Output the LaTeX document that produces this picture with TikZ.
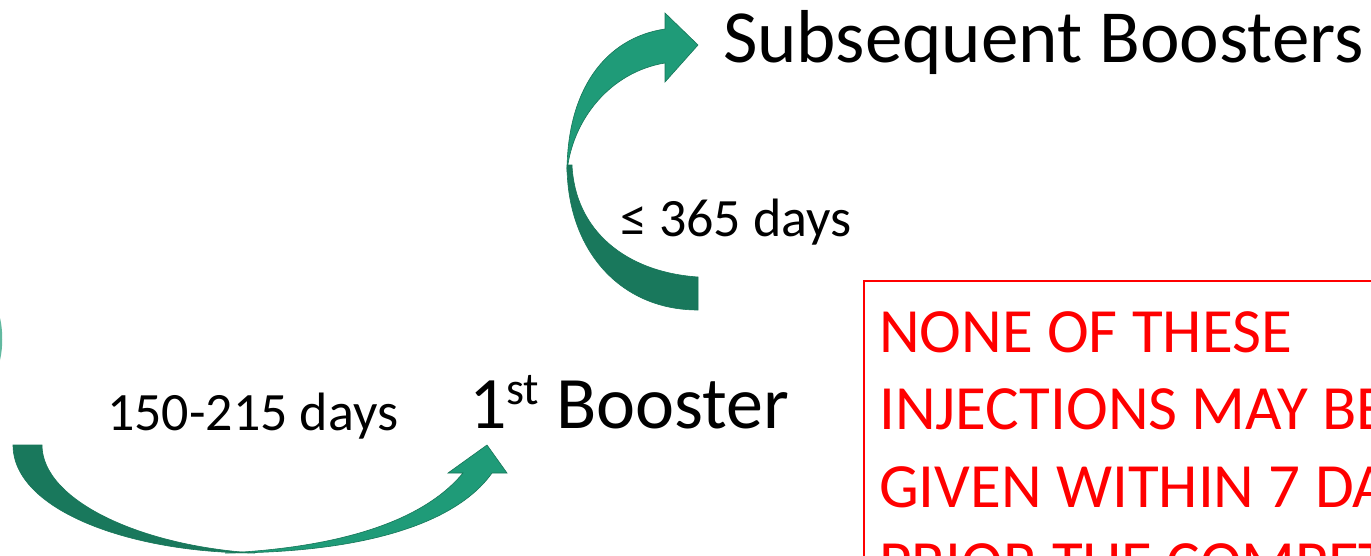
\documentclass[tikz,border=0pt]{standalone}
\usepackage{fontspec}
\setmainfont{Carlito}
\definecolor{arrdark}{RGB}{25,120,92}
\definecolor{arrlight}{RGB}{31,155,120}
\definecolor{arredge}{RGB}{22,118,88}
\definecolor{boxred}{RGB}{255,0,0}
\begin{document}
\begin{tikzpicture}[x=1pt,y=-1pt,
  lbl/.style={anchor=base west,inner sep=0pt,outer sep=0pt,text=black},
  darkpart/.style={fill=arrdark,draw=arredge,line width=0.6pt},
  lightpart/.style={fill=arrlight,draw=arredge,line width=0.6pt},
  redline/.style={anchor=base west,inner sep=0pt,text=boxred,font=\fontsize{63}{77}\selectfont}]
\useasboundingbox (0,0) rectangle (1371,555);
\clip (0,0) rectangle (1371,555);
\fill[white] (0,0) rectangle (1371,555);
% sliver of an arrow cut off at the left edge
\fill[arrlight!70] (0,318) .. controls (3,330) and (3,348) .. (0,360) -- cycle;
% bottom curved arrow (to 1st Booster)
\path[darkpart] (13,445) .. controls (13,510) and (130,553) .. (255,553)
  .. controls (140,546) and (42,500) .. (42,445) -- cycle;
\path[lightpart] (225,553) .. controls (360,553) and (455,525) .. (492,473)
  -- (507,473) -- (487,445) -- (448,473) -- (463,473)
  .. controls (420,525) and (330,548) .. (225,553) -- cycle;
% top curved arrow (to Subsequent Boosters)
\path[darkpart] (567,165) .. controls (567,250) and (620,310) .. (698,310)
  -- (698,277) .. controls (625,272) and (575,230) .. (572,165) -- cycle;
\path[lightpart] (567,172) .. controls (567,90) and (605,38) .. (665,29)
  -- (665,13) -- (698,45) -- (665,82) -- (665,63)
  .. controls (610,72) and (572,120) .. (567,172) -- cycle;
% texts
\node[lbl,font=\fontsize{75}{80}\selectfont] (subs) at (723,62) {Subsequent Boosters};
\node[lbl,font=\fontsize{54}{60}\selectfont] (d365) at (620,236) {≤ 365 days};
\node[lbl,font=\fontsize{54}{60}\selectfont] (d150) at (107,430) {150-215 days};
\node[lbl,font=\fontsize{74}{80}\selectfont] (first) at (469,428)
  {1\raisebox{24pt}{\fontsize{46}{46}\selectfont st} Booster};
% red box
\draw[boxred,line width=1.5pt] (1400,281) -- (864,281) -- (864,600);
\node[redline] (r1) at (879,352) {NONE OF THESE};
\node[redline] (r2) at (879,429) {INJECTIONS MAY BE};
\node[redline] (r3) at (879,507) {GIVEN WITHIN 7 DAYS};
\node[redline] (r4) at (879,584) {PRIOR THE COMPETITION};
\end{tikzpicture}
\end{document}
